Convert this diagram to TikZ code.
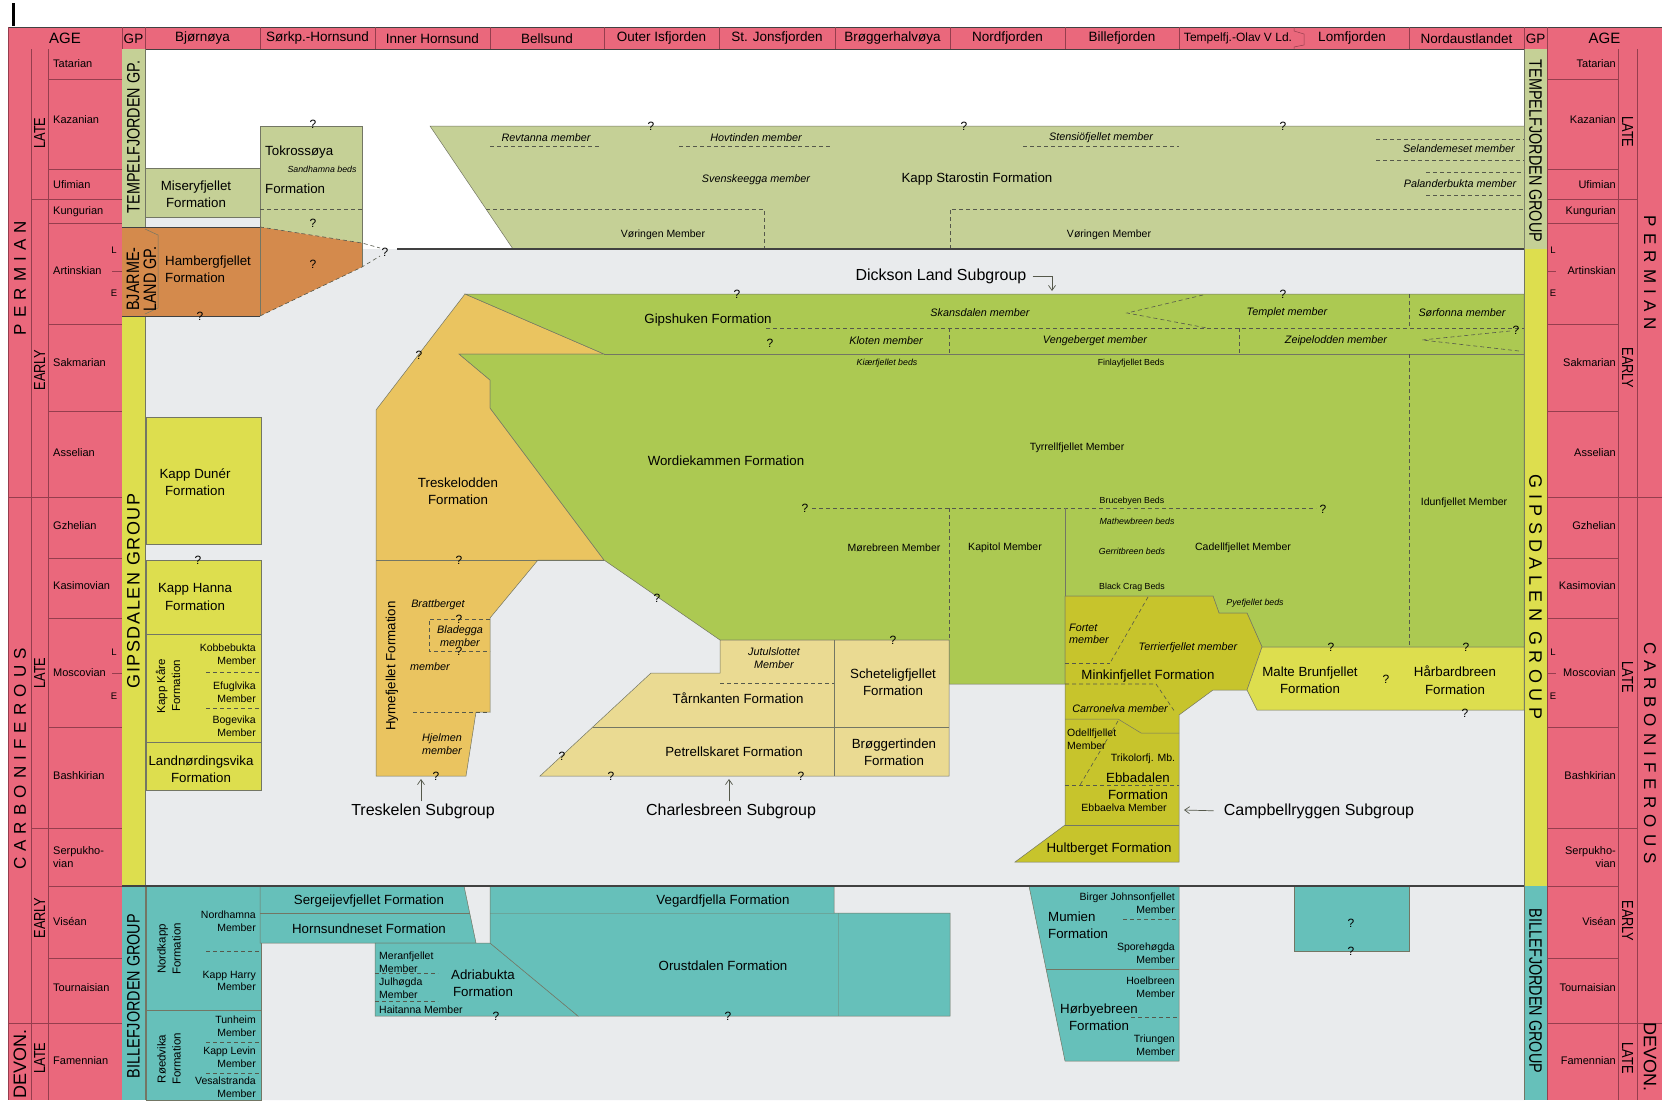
\documentclass[tikz,border=0pt]{standalone}
\usepackage{fontspec}
\setmainfont{Liberation Sans}
\newfontfamily\condfont[FakeStretch=0.8]{Liberation Sans}
\newfontfamily\periodfont[LetterSpace=36]{Liberation Sans}
\newfontfamily\gipsfont[LetterSpace=9]{Liberation Sans}
\newfontfamily\gipswidefont[LetterSpace=30]{Liberation Sans}
\usetikzlibrary{arrows.meta}

\definecolor{agepink}{RGB}{234,104,124}
\definecolor{ageline}{RGB}{150,62,78}
\definecolor{tempelgreen}{RGB}{197,208,150}
\definecolor{hambergorange}{RGB}{212,138,76}
\definecolor{gipsyellow}{RGB}{221,222,78}
\definecolor{wordiegreen}{RGB}{172,201,82}
\definecolor{treskorange}{RGB}{234,196,96}
\definecolor{charlesyellow}{RGB}{234,218,146}
\definecolor{campolive}{RGB}{199,196,44}
\definecolor{billeteal}{RGB}{102,192,186}
\definecolor{bggray}{RGB}{233,235,237}
\definecolor{boxline}{RGB}{115,118,100}
\definecolor{dashline}{RGB}{85,88,75}
\definecolor{mainline}{RGB}{65,65,65}

\tikzset{
  ageln/.style={draw=ageline, line width=0.5pt},
  box/.style={draw=boxline, line width=0.5pt},
  dsh/.style={draw=dashline, line width=0.6pt, dash pattern=on 4pt off 3pt},
  mainln/.style={draw=mainline, line width=1.4pt},
  hdr/.style={font=\fontsize{13.5}{15}\selectfont, inner sep=0pt},
  stage/.style={font=\fontsize{11}{12.5}\selectfont, inner sep=0pt},
  subep/.style={font=\fontsize{9.5}{10}\selectfont, inner sep=0pt},
  epoch/.style={font=\condfont\fontsize{16}{16}\selectfont, inner sep=0pt},
  period/.style={font=\periodfont\fontsize{17}{17}\selectfont, inner sep=0pt},
  grp/.style={font=\condfont\fontsize{18}{17}\selectfont, inner sep=0pt, align=center},
  fm/.style={font=\fontsize{13.3}{17.5}\selectfont, inner sep=0pt, align=center},
  mb/.style={font=\fontsize{10.5}{12.5}\selectfont, inner sep=0pt, align=center},
  mbit/.style={mb, font=\fontsize{10.8}{12.5}\selectfont\itshape},
  bed/.style={font=\fontsize{8.8}{10}\selectfont, inner sep=0pt},
  bedit/.style={bed, font=\fontsize{8.8}{10}\selectfont\itshape},
  qm/.style={font=\fontsize{12}{12}\selectfont, inner sep=0pt},
  subgrp/.style={font=\fontsize{16}{18}\selectfont, inner sep=2pt},
  sgarrow/.style={draw=dashline, line width=0.7pt,
    -{Straight Barb[length=5pt, width=7pt]}},
}

\begin{document}
\begin{tikzpicture}[x=1pt, y=-1pt]
  \useasboundingbox (0,0) rectangle (1662,1100);

  % Paper and chart background
  \fill[white] (0,0) rectangle (1662,1100);
  \fill[bggray] (145,217) -- (260,217) -- (260,249) -- (1524,249)
    -- (1524,1100) -- (145,1100) -- cycle;
  \draw[line width=2.5pt] (13.5,3) -- (13.5,26);

  % Header row
  \fill[agepink] (8,27) rectangle (1662,49);
  \draw[mainline, line width=0.6pt] (8,27) -- (1662,27);
  \draw[mainline, line width=0.6pt] (8,49) -- (1662,49);
  \foreach \xx in {8,122,145,260,375,490,604,719,835,950,1065,1179,1409,1524,1547}
    \draw[ageln] (\xx,27) -- (\xx,49);
  \draw[ageln] (1294,27) -- (1294,31) -- (1304,34) -- (1304,45)
    -- (1294,47) -- (1294,49);

  % Age columns
  \fill[agepink] (8,49) rectangle (122,1100);
  \fill[agepink] (1547,49) rectangle (1662,1100);
  \foreach \xx in {8,31,48,122,1547,1618,1637}
    \draw[ageln] (\xx,49) -- (\xx,1100);
  \foreach \yy in {79,169,223,324,411,558,618,727,886,958} {
    \draw[ageln] (48,\yy) -- (122,\yy);
    \draw[ageln] (1547,\yy) -- (1618,\yy);
  }
  \foreach \yy in {199,828} {
    \draw[ageln] (31,\yy) -- (122,\yy);
    \draw[ageln] (1547,\yy) -- (1637,\yy);
  }
  \foreach \yy in {497,1023} {
    \draw[ageln] (8,\yy) -- (122,\yy);
    \draw[ageln] (1547,\yy) -- (1662,\yy);
  }
  \foreach \yy in {271,673} {
    \draw[ageln] (112,\yy) -- (122,\yy);
    \draw[ageln] (1547,\yy) -- (1556,\yy);
  }

  % Group columns
  \fill[tempelgreen] (122,49) rectangle (145,227);
  \fill[gipsyellow] (122,316) rectangle (145,886);
  \fill[billeteal] (122,886) rectangle (145,1100);
  \fill[tempelgreen] (1524,49) rectangle (1547,249);
  \fill[gipsyellow] (1524,249) rectangle (1547,886);
  \fill[billeteal] (1524,886) rectangle (1547,1100);
  \draw[box] (145,49) -- (145,227);
  \draw[box] (145,316) -- (145,1100);
  \draw[box] (1524,49) -- (1524,1100);

  % Tempelfjorden Group, Bjornoya and Sorkapp
  \draw[box, fill=tempelgreen] (145,168) rectangle (260,217);
  \fill[tempelgreen] (260,126) -- (362,126) -- (362,243) -- (260,227) -- cycle;
  \draw[box] (260,227) -- (260,126) -- (362,126) -- (362,243);
  \draw[dsh] (260,209) -- (362,209);

  % Hambergfjellet Formation
  \fill[hambergorange] (122,227) -- (260,227) -- (362,243) -- (362,267)
    -- (260,316) -- (122,316) -- cycle;
  \draw[mainline, line width=1pt] (122,227) -- (260,227);
  \draw[mainline, line width=1pt] (122,316) -- (260,316);
  \draw[box] (260,227) -- (260,316);
  \draw[box] (362,243) -- (362,267);
  \draw[dsh] (260,227) -- (362,243) -- (380,248);
  \draw[dsh] (260,316) -- (362,267) -- (380,256);
  \draw[box] (145,229) -- (158,235) -- (158,308) -- (145,314);

  % Kapp Starostin Formation
  \fill[tempelgreen] (430,126) -- (1524,126) -- (1524,249) -- (513,249) -- cycle;
  \draw[box] (513,249) -- (430,126) -- (1524,126);
  \draw[dsh] (486,209) -- (764,209) -- (764,249);
  \draw[dsh] (950,249) -- (950,209) -- (1524,209);
  \draw[dsh] (490,146) -- (600,146);
  \draw[dsh] (679,146) -- (830,146);
  \draw[dsh] (1023,146) -- (1179,146);
  \foreach \yy in {139,160} \draw[dsh] (1376,\yy) -- (1524,\yy);
  \foreach \yy in {172,195} \draw[dsh] (1426,\yy) -- (1524,\yy);
  \draw[mainln] (397,249) -- (1524,249);

  % Treskelen Subgroup
  \draw[box, fill=treskorange] (465,294) -- (604,354) -- (459,354) -- (490,380)
    -- (490,408) -- (604,560) -- (538,560) -- (490,618) -- (490,712)
    -- (476,712) -- (466,776) -- (376,776) -- (376,410) -- cycle;
  \draw[box] (376,560) -- (604,560);
  \draw[dsh] (490,619) -- (429,619) -- (429,651) -- (490,651);
  \draw[dsh] (413,712) -- (490,712);

  % Gipshuken and Wordiekammen formations
  \draw[box, fill=wordiegreen] (465,294) -- (1524,294) -- (1524,647)
    -- (1262,647) -- (1247,613) -- (1219,613) -- (1213,596) -- (1065,596)
    -- (1065,684) -- (949,684) -- (949,640) -- (720,640) -- (604,560)
    -- (490,408) -- (490,380) -- (459,354) -- (604,354) -- cycle;
  \draw[box] (604,354) -- (1524,354);
  \draw[dsh] (766,328) -- (1524,328);
  \draw[dsh] (949,328) -- (949,354);
  \draw[dsh] (1239,328) -- (1239,354);
  \draw[dsh] (1409,294) -- (1409,328);
  \draw[dsh] (1409,354) -- (1409,647);
  \draw[dsh] (1203,295) -- (1127,313) -- (1207,328);
  \draw[dsh] (1510,331) -- (1422,340) -- (1519,351);
  \draw[dsh] (812,508) -- (1316,508);
  \draw[dsh] (949,508) -- (949,640);
  \draw[box] (1065,508) -- (1065,596);

  % Charlesbreen Subgroup
  \draw[box, fill=charlesyellow] (720,640) -- (949,640) -- (949,776) -- (540,776)
    -- (651,673) -- (720,673) -- cycle;
  \draw[box] (834,640) -- (834,776);
  \draw[box] (593,727) -- (949,727);
  \draw[dsh] (720,683) -- (834,683);

  % Campbellryggen Subgroup
  \draw[box, fill=campolive] (1065,596) -- (1213,596) -- (1219,613) -- (1247,613)
    -- (1262,647) -- (1247,690) -- (1213,690) -- (1179,715) -- (1179,862)
    -- (1015,862) -- (1065,825) -- cycle;
  \draw[dsh] (1148,597) -- (1110,663);
  \draw[dsh] (1065,663) -- (1110,663);
  \draw[dsh] (1065,684) -- (1156,684) -- (1175,712);
  \draw[box] (1065,719) -- (1118,719) -- (1141,733) -- (1179,733);
  \draw[dsh] (1118,721) -- (1080,785);
  \draw[dsh] (1065,785) -- (1179,785);
  \draw[box] (1065,825) -- (1179,825);

  % Malte Brunfjellet and Harbardbreen formations
  \draw[box, fill=gipsyellow] (1262,647) -- (1524,647) -- (1524,710)
    -- (1257,710) -- (1247,690) -- cycle;

  % Gipsdalen Group, Bjornoya
  \draw[box, fill=gipsyellow] (146,417) rectangle (261,544);
  \draw[box, fill=gipsyellow] (146,560) rectangle (261,790);
  \foreach \yy in {634,742} \draw[box] (146,\yy) -- (261,\yy);
  \foreach \yy in {672,708} \draw[dsh] (206,\yy) -- (261,\yy);

  % Billefjorden Group
  \draw[box, fill=billeteal] (146,886) rectangle (261,1100);
  \draw[box] (146,1010) -- (261,1010);
  \foreach \yy in {951,1042,1073} \draw[dsh] (206,\yy) -- (261,\yy);
  \draw[box, fill=billeteal] (260,886) -- (464,886) -- (476,943) -- (260,943) -- cycle;
  \draw[box] (260,913) -- (470,913);
  \draw[box, fill=billeteal] (375,943) -- (490,943) -- (578,1016) -- (375,1016) -- cycle;
  \draw[dsh] (375,973) -- (438,973);
  \draw[dsh] (375,1001) -- (438,1001);
  \draw[box, fill=billeteal] (490,886) -- (834,886) -- (834,913) -- (950,913)
    -- (950,1016) -- (578,1016) -- (490,943) -- cycle;
  \draw[box, draw opacity=0.35] (490,913) -- (834,913);
  \draw[box, draw opacity=0.35] (838,913) -- (838,1016);
  \draw[box, fill=billeteal] (1029,886) -- (1179,886) -- (1179,1061) -- (1065,1061) -- cycle;
  \draw[box] (1046,969) -- (1179,969);
  \draw[dsh] (1123,919) -- (1179,919);
  \draw[dsh] (1131,1017) -- (1179,1017);
  \draw[box, fill=billeteal] (1294,886) rectangle (1409,951);
  \draw[mainln] (122,886) -- (1524,886);

  % Header texts
  \node[hdr, font=\fontsize{15}{15}\selectfont] (hAgeL) at (65,38.5) {AGE};
  \node[hdr] (hGpL) at (133.5,38.5) {GP};
  \foreach \xx/\name [count=\i] in {202.5/Bjørnøya, 317.5/Sørkp.-Hornsund,
      432.5/Inner Hornsund, 547/Bellsund, 661.5/Outer Isfjorden,
      777/St. Jonsfjorden, 892.5/Brøggerhalvøya, 1007.5/Nordfjorden,
      1122/Billefjorden, 1352/Lomfjorden, 1466.5/Nordaustlandet}
    \node[hdr] (hLoc\i) at (\xx,38.5) {\name};
  \node[hdr, font=\fontsize{12}{12}\selectfont] (hTempelfj) at (1238,38.5)
    {Tempelfj.-Olav V Ld.};
  \node[hdr] (hGpR) at (1535.5,38.5) {GP};
  \node[hdr, font=\fontsize{15}{15}\selectfont] (hAgeR) at (1604.5,38.5) {AGE};

  % Stages
  \foreach \yy/\name [count=\i] in {64/Tatarian, 120/Kazanian, 185/Ufimian,
      212/Kungurian, 271/Artinskian, 363/Sakmarian, 453/Asselian,
      526/Gzhelian, 586/Kasimovian, 673/Moscovian, 776/Bashkirian,
      857/{Serpukho-\\vian}, 921/Viséan, 988/Tournaisian, 1061/Famennian} {
    \node[stage, anchor=west, align=left] (stL\i) at (53,\yy) {\name};
    \node[stage, anchor=east, align=right] (stR\i) at (1616,\yy) {\name};
  }
  \foreach \yy/\name [count=\i] in {250/L, 293/E, 652/L, 696/E} {
    \node[subep] (seL\i) at (114,\yy) {\name};
    \node[subep] (seR\i) at (1553,\yy) {\name};
  }

  % Epochs and periods
  \foreach \yy/\name [count=\i] in {133/LATE, 370/EARLY, 673/LATE,
      918/EARLY, 1058/LATE}
    \node[epoch, rotate=90] (epL\i) at (39.5,\yy) {\name};
  \foreach \yy/\name [count=\i] in {132/LATE, 368/EARLY, 677/LATE,
      921/EARLY, 1058/LATE}
    \node[epoch, rotate=-90] (epR\i) at (1627.5,\yy) {\name};
  \node[period, rotate=90] (perPermL) at (20,278) {PERMIAN};
  \node[period, rotate=90] (perCarbL) at (20,759) {CARBONIFEROUS};
  \node[hdr, font=\fontsize{18}{18}\selectfont, rotate=90] (perDevL) at (20,1064) {DEVON.};
  \node[period, rotate=-90] (perPermR) at (1650,273) {PERMIAN};
  \node[period, rotate=-90] (perCarbR) at (1650,753) {CARBONIFEROUS};
  \node[hdr, font=\fontsize{18}{18}\selectfont, rotate=-90] (perDevR) at (1650,1057) {DEVON.};

  % Group labels
  \node[grp, rotate=90] (gpTempelL) at (133.5,137) {TEMPELFJORDEN GP.};
  \node[grp, rotate=90] (gpBjarme) at (141.5,279) {BJARME-\\LAND GP.};
  \node[grp, font=\gipsfont\fontsize{18}{18}\selectfont, rotate=90] (gpGipsL)
    at (133.5,591) {GIPSDALEN GROUP};
  \node[grp, rotate=90] (gpBilleL) at (133.5,996) {BILLEFJORDEN GROUP};
  \node[grp, rotate=-90] (gpTempelR) at (1535.5,151) {TEMPELFJORDEN GROUP};
  \node[grp, font=\gipswidefont\fontsize{18}{18}\selectfont, rotate=-90] (gpGipsR)
    at (1535.5,597) {GIPSDALEN GROUP};
  \node[grp, rotate=-90] (gpBilleR) at (1535.5,991) {BILLEFJORDEN GROUP};

  % Tempelfjorden Group labels
  \node[fm] (fmMisery) at (196,194) {Miseryfjellet\\Formation};
  \node[fm, anchor=west] (fmTokro) at (265,152) {Tokrossøya};
  \node[bedit] (bdSandhamna) at (322,169) {Sandhamna beds};
  \node[fm, anchor=west] (fmTokroB) at (265,189) {Formation};
  \node[fm, anchor=west, align=left] (fmHamberg) at (165,269)
    {Hambergfjellet\\Formation};
  \node[mbit] (mbRevtanna) at (546,138) {Revtanna member};
  \node[mbit] (mbHovtinden) at (756,138) {Hovtinden member};
  \node[mbit] (mbStensio) at (1101,138) {Stensiöfjellet member};
  \node[mbit] (mbSelandemeset) at (1459,149) {Selandemeset member};
  \node[mbit] (mbSvenskeegga) at (756,180) {Svenskeegga member};
  \node[fm] (fmKappStarostin) at (977,179) {Kapp Starostin Formation};
  \node[mbit] (mbPalanderbukta) at (1460,184) {Palanderbukta member};
  \node[mb] (mbVoringenW) at (663,235) {Vøringen Member};
  \node[mb] (mbVoringenE) at (1109,235) {Vøringen Member};

  % Dickson Land Subgroup labels
  \node[subgrp] (sgDickson) at (941,276) {Dickson Land Subgroup};
  \coordinate (dicksonTip) at (1052,291);
  \draw[sgarrow, shorten <=4pt] (sgDickson.east) -| (dicksonTip);
  \node[fm] (fmGipshuken) at (708,320) {Gipshuken Formation};
  \node[mbit] (mbSkansdalen) at (980,313) {Skansdalen member};
  \node[mbit] (mbTemplet) at (1287,313) {Templet member};
  \node[mbit] (mbSorfonna) at (1462,313) {Sørfonna member};
  \node[mbit] (mbKloten) at (886,341) {Kloten member};
  \node[mbit] (mbVengeberget) at (1095,341) {Vengeberget member};
  \node[mbit] (mbZeipelodden) at (1336,341) {Zeipelodden member};
  \node[bedit] (bdKiaerfjellet) at (887,363) {Kiærfjellet beds};
  \node[bed] (bdFinlayfjellet) at (1131,363) {Finlayfjellet Beds};
  \node[fm] (fmWordiekammen) at (726,461) {Wordiekammen Formation};
  \node[mb] (mbTyrrellfjellet) at (1077,448) {Tyrrellfjellet Member};
  \node[bed] (bdBrucebyen) at (1132,501) {Brucebyen Beds};
  \node[mb] (mbIdunfjellet) at (1464,503) {Idunfjellet Member};
  \node[bedit] (bdMathewbreen) at (1137,521) {Mathewbreen beds};
  \node[mb] (mbMorebreen) at (894,548) {Mørebreen Member};
  \node[mb] (mbKapitol) at (1005,548) {Kapitol Member};
  \node[bedit] (bdGerritbreen) at (1132,551) {Gerritbreen beds};
  \node[mb] (mbCadellfjellet) at (1243,548) {Cadellfjellet Member};
  \node[bed] (bdBlackCrag) at (1132,587) {Black Crag Beds};
  \node[bedit] (bdPyefjellet) at (1255,603) {Pyefjellet beds};

  % Treskelen Subgroup labels
  \node[fm] (fmTreskelodden) at (458,491) {Treskelodden\\Formation};
  \node[fm, rotate=90] (fmHymefjellet) at (392,666) {Hymefjellet Formation};
  \node[mbit] (mbBrattberget) at (438,605) {Brattberget};
  \node[mbit] (mbBladegga) at (460,636) {Bladegga\\member};
  \node[mbit] (mbHymefjellet) at (430,667) {member};
  \node[mbit] (mbHjelmen) at (442,744) {Hjelmen\\member};
  \node[subgrp] (sgTreskelen) at (423,811) {Treskelen Subgroup};
  \coordinate (treskelenTip) at (421,779);
  \draw[sgarrow] (sgTreskelen.north -| treskelenTip) -- (treskelenTip);

  % Charlesbreen Subgroup labels
  \node[mbit] (mbJutulslottet) at (774,658) {Jutulslottet\\Member};
  \node[fm] (fmSchetelig) at (893,682) {Scheteligfjellet\\Formation};
  \node[fm] (fmTarnkanten) at (738,698) {Tårnkanten Formation};
  \node[fm] (fmPetrellskaret) at (734,752) {Petrellskaret Formation};
  \node[fm] (fmBroggertinden) at (894,752) {Brøggertinden\\Formation};
  \node[subgrp] (sgCharlesbreen) at (731,811) {Charlesbreen Subgroup};
  \coordinate (charlesbreenTip) at (729,779);
  \draw[sgarrow] (sgCharlesbreen.north -| charlesbreenTip) -- (charlesbreenTip);

  % Campbellryggen Subgroup labels
  \node[mbit, anchor=west, align=left] (mbFortet) at (1069,634) {Fortet\\member};
  \node[mbit] (mbTerrier) at (1188,648) {Terrierfjellet member};
  \node[fm] (fmMinkin) at (1148,676) {Minkinfjellet Formation};
  \node[mbit] (mbCarronelva) at (1120,709) {Carronelva member};
  \node[mb, anchor=west, align=left] (mbOdell) at (1067,739) {Odellfjellet\\Member};
  \node[mb] (mbTrikolor) at (1143,759) {Trikolorfj. Mb.};
  \node[fm] (fmEbbadalen) at (1138,786) {Ebbadalen\\Formation};
  \node[mb] (mbEbbaelva) at (1124,808) {Ebbaelva Member};
  \node[fm] (fmHultberget) at (1109,849) {Hultberget Formation};
  \node[subgrp] (sgCampbell) at (1319,811) {Campbellryggen Subgroup};
  \coordinate (campbellTip) at (1184,810);
  \draw[sgarrow, shorten <=8pt] (sgCampbell.west) -- (campbellTip);
  \node[fm] (fmMalte) at (1310,680) {Malte Brunfjellet\\Formation};
  \node[fm] (fmHarbard) at (1455,680) {Hårbardbreen\\Formation};

  % Gipsdalen Group labels, Bjornoya
  \node[fm] (fmKappDuner) at (195,482) {Kapp Dunér\\Formation};
  \node[fm] (fmKappHanna) at (195,597) {Kapp Hanna\\Formation};
  \node[mb, font=\fontsize{11.5}{15}\selectfont, rotate=90] (fmKappKare)
    at (168,686) {Kapp Kåre\\Formation};
  \node[mb, anchor=east, align=right] (mbKobbebukta) at (256,654) {Kobbebukta\\Member};
  \node[mb, anchor=east, align=right] (mbEfuglvika) at (256,692) {Efuglvika\\Member};
  \node[mb, anchor=east, align=right] (mbBogevika) at (256,726) {Bogevika\\Member};
  \node[fm] (fmLandnord) at (201,769) {Landnørdingsvika\\Formation};

  % Billefjorden Group labels
  \node[mb, font=\fontsize{11.5}{15}\selectfont, rotate=90] (fmNordkapp)
    at (169,949) {Nordkapp\\Formation};
  \node[mb, font=\fontsize{11.5}{15}\selectfont, rotate=90] (fmRoedvika)
    at (169,1059) {Røedvika\\Formation};
  \node[mb, anchor=east, align=right] (mbNordhamna) at (256,921) {Nordhamna\\Member};
  \node[mb, anchor=east, align=right] (mbKappHarry) at (256,981) {Kapp Harry\\Member};
  \node[mb, anchor=east, align=right] (mbTunheim) at (256,1026) {Tunheim\\Member};
  \node[mb, anchor=east, align=right] (mbKappLevin) at (256,1057) {Kapp Levin\\Member};
  \node[mb, anchor=east, align=right] (mbVesalstranda) at (256,1087) {Vesalstranda\\Member};
  \node[fm] (fmSergeijev) at (369,901) {Sergeijevfjellet Formation};
  \node[fm] (fmHornsundneset) at (369,929) {Hornsundneset Formation};
  \node[mb, anchor=west, align=left] (mbMeranfjellet) at (379,962) {Meranfjellet\\Member};
  \node[mb, anchor=west, align=left] (mbJulhogda) at (379,988) {Julhøgda\\Member};
  \node[mb, anchor=west] (mbHaitanna) at (379,1010) {Haitanna Member};
  \node[fm] (fmAdriabukta) at (483,983) {Adriabukta\\Formation};
  \node[fm] (fmVegardfjella) at (723,901) {Vegardfjella Formation};
  \node[fm] (fmOrustdalen) at (723,966) {Orustdalen Formation};
  \node[mb, anchor=east, align=right] (mbBirger) at (1175,903)
    {Birger Johnsonfjellet\\Member};
  \node[fm, anchor=west, align=left] (fmMumien) at (1048,925) {Mumien\\Formation};
  \node[mb, anchor=east, align=right] (mbSporehogda) at (1175,953) {Sporehøgda\\Member};
  \node[mb, anchor=east, align=right] (mbHoelbreen) at (1175,987) {Hoelbreen\\Member};
  \node[fm] (fmHorbyebreen) at (1099,1017) {Hørbyebreen\\Formation};
  \node[mb, anchor=east, align=right] (mbTriungen) at (1175,1045) {Triungen\\Member};

  % Uncertain boundaries
  \foreach \xx/\yy [count=\i] in {313/124, 313/223, 313/264, 200/316, 385/252,
      651/126, 964/126, 1283/126, 737/294, 1283/294, 770/343, 1516/330,
      805/508, 1323/509, 419/355, 459/560, 657/598, 459/619, 459/651,
      436/776, 893/640, 562/756, 611/776, 801/776, 1331/647, 1466/647,
      1386/679, 1465/713, 198/560, 496/1016, 728/1016, 1351/923, 1351/951}
    \node[qm] (q\i) at (\xx,\yy) {?};
\end{tikzpicture}
\end{document}
